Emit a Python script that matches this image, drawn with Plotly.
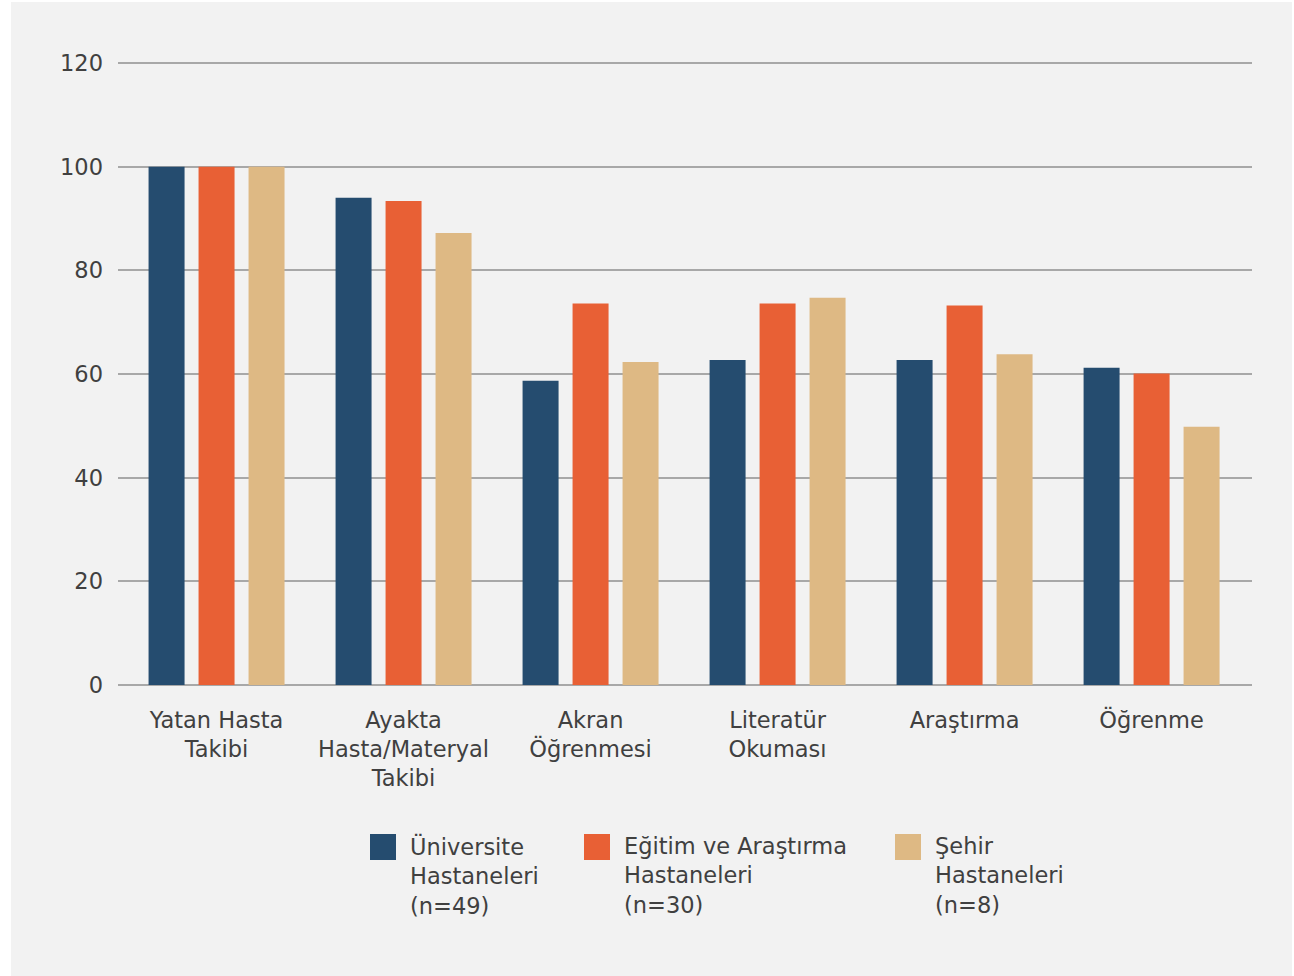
import plotly.graph_objects as go

categories = ["Yatan Hasta<br>Takibi", "Ayakta<br>Hasta/Materyal<br>Takibi", "Akran<br>Öğrenmesi",
              "Literatür<br>Okuması", "Araştırma", "Öğrenme"]
series_names = ["Üniversite<br>Hastaneleri<br>(n=49)",
                "Eğitim ve Araştırma<br>Hastaneleri<br>(n=30)",
                "Şehir<br>Hastaneleri<br>(n=8)"]
universite = [100, 94.0, 58.7, 62.7, 62.7, 61.2]
egitim = [100, 93.4, 73.6, 73.6, 73.2, 60.1]
sehir = [100, 87.2, 62.3, 74.7, 63.8, 49.8]
series_values = [universite, egitim, sehir]
colors = ["#254c6f", "#e86035", "#deb984"]
y_ticks = [0, 20, 40, 60, 80, 100, 120]

W, H = 1294, 976
ML, MR, MT, MB = 118, 42, 61, 291
PW, PH = W - ML - MR, H - MT - MB
Y_MAX = 120 * (685 - MT) / (685 - 63)

def px_x(px):
    return (px - ML) / PW

def px_y(py):
    return (H - MB - py) / PH

FONT = "DejaVu Sans"
FS = 22.5
TXT = "#404040"

fig = go.Figure()
x_idx = list(range(len(categories)))
for name, vals, col in zip(series_names, series_values, colors):
    fig.add_trace(go.Bar(x=x_idx, y=vals, name=name, marker=dict(color=col, line=dict(width=0)),
                         showlegend=False))

# background panel
fig.add_shape(type="rect", xref="paper", yref="paper", x0=px_x(11), x1=px_x(1292),
              y0=px_y(977), y1=px_y(2), fillcolor="#f2f2f2", line=dict(width=0), layer="below")

# manual legend
leg_x = [370, 584, 895]
for name, col, lx in zip(series_names, colors, leg_x):
    fig.add_shape(type="rect", xref="paper", yref="paper", x0=px_x(lx), x1=px_x(lx + 26),
                  y0=px_y(860), y1=px_y(834), fillcolor=col, line=dict(width=0), layer="above")
    fig.add_annotation(xref="paper", yref="paper", x=px_x(lx + 38), y=px_y(831), text=name,
                       showarrow=False, xanchor="left", yanchor="top", align="left",
                       font=dict(family=FONT, size=FS, color=TXT))

fig.update_layout(
    width=W, height=H,
    margin=dict(l=ML, r=MR, t=MT, b=MB, pad=0),
    paper_bgcolor="white", plot_bgcolor="rgba(0,0,0,0)",
    barmode="group", bargap=0.198, bargroupgap=0.28,
    font=dict(family=FONT, size=FS, color=TXT),
    showlegend=False,
)
fig.update_xaxes(range=[-0.527, 5.537], tickmode="array", tickvals=x_idx, ticktext=categories,
                 showgrid=False, zeroline=False, showline=False, ticks="",
                 tickfont=dict(family=FONT, size=FS, color=TXT), ticklabelstandoff=19)
fig.update_yaxes(range=[0, Y_MAX], tickmode="array", tickvals=y_ticks, showgrid=True,
                 gridcolor="#a8a8a8", gridwidth=1.5, zeroline=True, zerolinecolor="#a8a8a8",
                 zerolinewidth=1.5, showline=False, ticks="",
                 tickfont=dict(family=FONT, size=FS, color=TXT), ticklabelstandoff=14)

fig.write_html("out.html", config={"displayModeBar": False},
               post_script="document.body.style.margin='0px';")
